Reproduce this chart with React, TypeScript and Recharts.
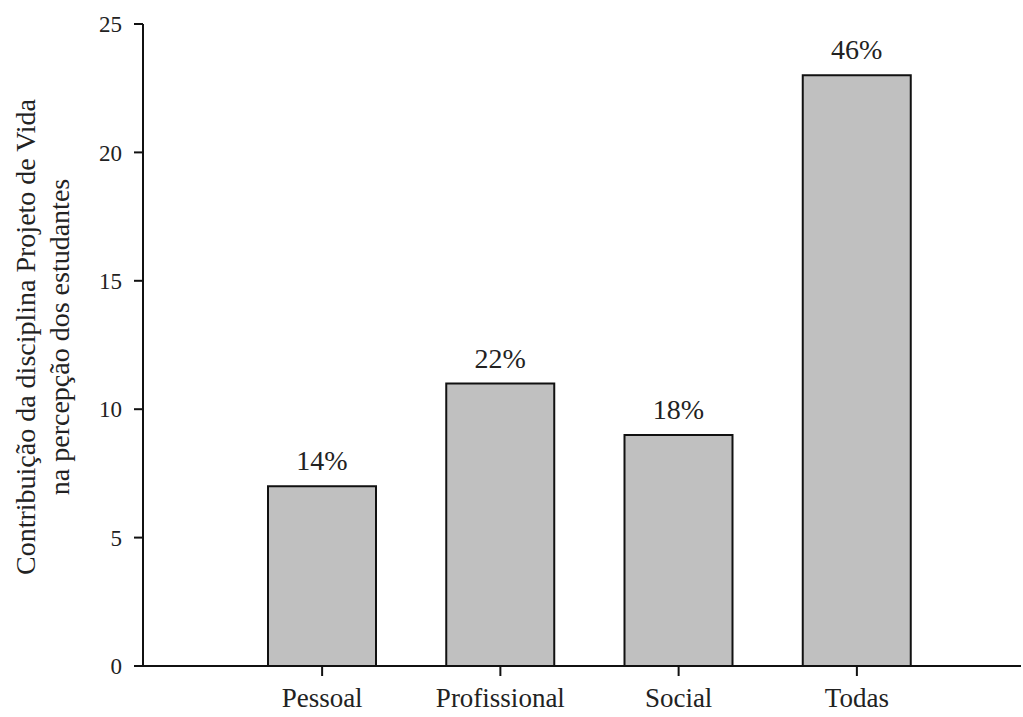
import React from "react";
import {
  BarChart,
  Bar,
  XAxis,
  YAxis,
  LabelList,
  Label,
} from "recharts";

const categories = ["Pessoal", "Profissional", "Social", "Todas"];
const counts = [7, 11, 9, 23];
const percentLabels = ["14%", "22%", "18%", "46%"];
const yTicks = [0, 5, 10, 15, 20, 25];

const data = categories.map((name, i) => ({
  name,
  value: counts[i],
  pct: percentLabels[i],
}));

const FONT = "'Liberation Serif', 'DejaVu Serif', serif";

// two-line rotated axis title, centred a bit above the plot middle
const YTitle = (props: any) => {
  const { viewBox } = props;
  const cy = viewBox.y + viewBox.height / 2 - 8;
  return (
    <g>
      <text
        x={25}
        y={cy}
        transform={`rotate(-90, 25, ${cy})`}
        textAnchor="middle"
        dominantBaseline="central"
        fontFamily={FONT}
        fontSize={28}
        fill="#222"
      >
        Contribuição da disciplina Projeto de Vida
      </text>
      <text
        x={59}
        y={cy}
        transform={`rotate(-90, 59, ${cy})`}
        textAnchor="middle"
        dominantBaseline="central"
        fontFamily={FONT}
        fontSize={28}
        fill="#222"
      >
        na percepção dos estudantes
      </text>
    </g>
  );
};

export default function App() {
  return (
    <div style={{ position: "absolute", top: 0, left: 0, background: "#fff" }}>
      <BarChart
        width={1023}
        height={717}
        data={data}
        margin={{ top: 24, right: 2, bottom: 0, left: 0 }}
      >
        <XAxis
          dataKey="name"
          height={51}
          padding={{ left: 90, right: 75 }}
          tickSize={10}
          tickMargin={12}
          stroke="#111"
          strokeWidth={2}
          tick={{ fontFamily: FONT, fontSize: 27, fill: "#222" }}
        />
        <YAxis
          width={143}
          domain={[0, 25]}
          ticks={yTicks}
          tickSize={9}
          tickMargin={12}
          stroke="#111"
          strokeWidth={2}
          tick={{ fontFamily: FONT, fontSize: 23, fill: "#222" }}
        >
          <Label content={<YTitle />} />
        </YAxis>
        <Bar
          dataKey="value"
          fill="#c0c0c0"
          stroke="#111"
          strokeWidth={2}
          barSize={108}
          isAnimationActive={false}
        >
          <LabelList
            dataKey="pct"
            position="top"
            offset={16}
            style={{ fontFamily: FONT, fontSize: 28, fill: "#222" }}
          />
        </Bar>
      </BarChart>
    </div>
  );
}
